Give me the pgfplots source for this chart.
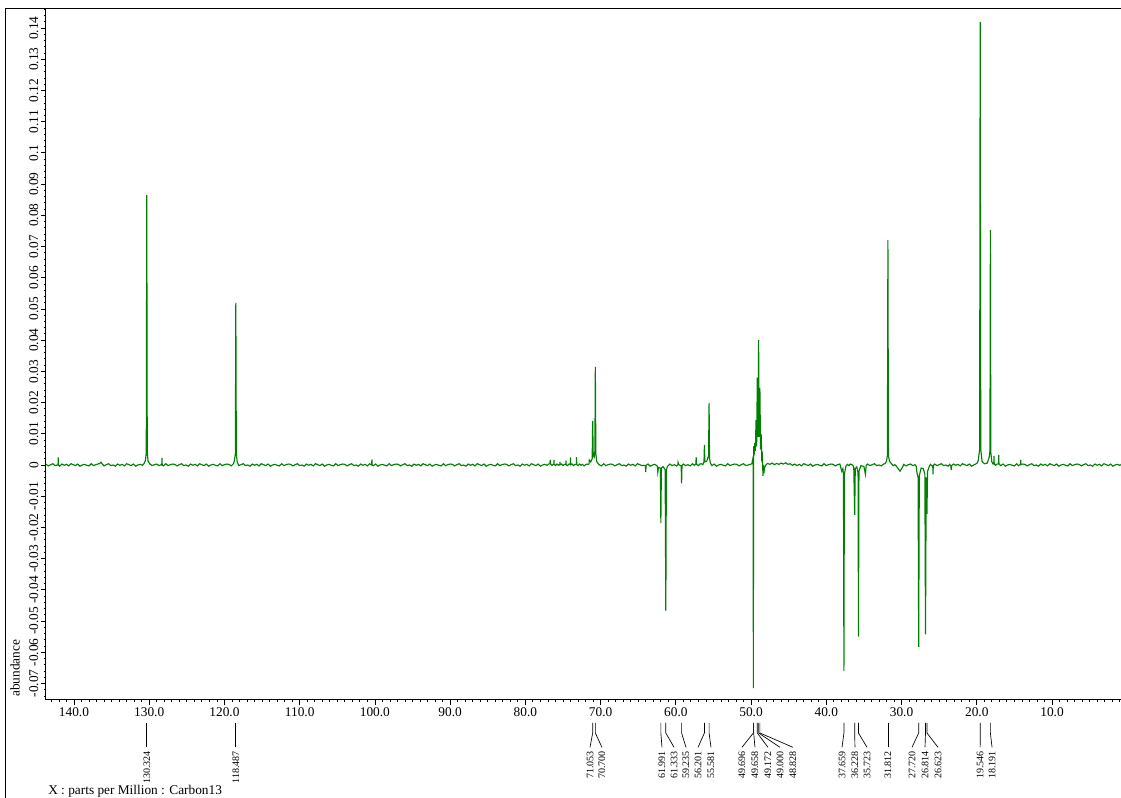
\documentclass[border=0pt]{standalone}
\usepackage{pgfplots}
\pgfplotsset{compat=1.18}
\usepackage{fontspec}
\setmainfont{Liberation Serif}
\definecolor{spec}{RGB}{0,128,0}
\newcommand{\pk}[3]{%
  \draw[line width=0.5pt] ([yshift=-17.25pt]axis cs:#1,-0.0753) -- ([yshift=-24.75pt]axis cs:#1,-0.0753) -- ([yshift=-35.5pt]axis cs:#2,-0.0753);
  \node[rotate=90,anchor=east,inner sep=0pt,font=\fontsize{7.5}{9}\selectfont] at ([yshift=-38.25pt]axis cs:#2,-0.0753) {#3};}
\begin{document}
\begin{tikzpicture}
\begin{axis}[
  name=ax,
  scale only axis, width=806.25pt, height=518.25pt,
  x dir=reverse,
  xmin=0.83, xmax=143.72, ymin=-0.0753, ymax=0.1461,
  axis x line*=bottom, axis y line*=left,
  axis line style={line width=0.75pt,-},
  xtick={10,20,...,140},
  minor xtick={1,2,...,143},
  ytick={-0.07,-0.06,-0.05,-0.04,-0.03,-0.02,-0.01,0,0.01,0.02,0.03,0.04,0.05,0.06,0.07,0.08,0.09,0.1,0.11,0.12,0.13,0.14},
  yticklabels={-0.07,-0.06,-0.05,-0.04,-0.03,-0.02,-0.01,0,0.01,0.02,0.03,0.04,0.05,0.06,0.07,0.08,0.09,0.1,0.11,0.12,0.13,0.14},
  minor ytick={-0.074,-0.072,...,0.146},
  tick align=outside,
  major tick length=3.5pt, minor tick length=1.75pt,
  every tick/.style={black, line width=0.6pt},
  /pgf/number format/assume math mode=true,
  x tick label style={font=\fontsize{10}{12}\selectfont, inner sep=2pt, /pgf/number format/.cd, fixed, fixed zerofill, precision=1, /tikz/.cd},
  y tick label style={font=\fontsize{10}{12}\selectfont, rotate=90, anchor=south, inner sep=2pt},
  clip=false,
]
\addplot[spec, line width=0.85pt] table {
143.7 0.0002
143.4 -0.0003
143.1 0.0001
142.8 0.0004
142.5 -0.0002
142.2 0.0000
142.12 0.0000
142.09 0.0024
142.06 0.0000
141.9 -0.0004
141.6 0.0003
141.3 -0.0001
141.0 0.0002
140.7 -0.0003
140.4 0.0004
140.1 0.0001
139.8 -0.0002
139.5 0.0003
139.2 -0.0004
138.9 0.0000
138.6 0.0002
138.3 -0.0001
138.0 -0.0003
137.7 0.0004
137.4 -0.0002
137.1 0.0001
136.8 0.0003
136.5 0.0006
136.4 0.0009
136.3 0.0005
136.0 -0.0003
135.7 0.0001
135.4 0.0004
135.1 -0.0002
134.8 0.0000
134.5 -0.0004
134.2 0.0003
133.9 -0.0001
133.6 0.0002
133.3 -0.0003
133.0 0.0004
132.7 0.0001
132.4 -0.0002
132.1 0.0003
131.8 -0.0004
131.5 0.0000
131.2 0.0002
130.9 -0.0001
130.7 0.0004
130.5 0.0015
130.39 0.0040
130.324 0.0865
130.26 0.0040
130.15 0.0012
129.9 0.0003
129.6 -0.0002
129.3 0.0001
129.0 0.0003
128.7 -0.0002
128.4 0.0001
128.33 0.0000
128.30 0.0023
128.27 0.0000
128.1 -0.0003
127.8 0.0004
127.5 -0.0002
127.2 0.0001
126.9 0.0003
126.6 0.0002
126.3 -0.0003
126.0 0.0001
125.7 0.0004
125.4 -0.0002
125.1 0.0000
124.8 -0.0004
124.5 0.0003
124.2 -0.0001
123.9 0.0002
123.6 -0.0003
123.3 0.0004
123.0 0.0001
122.7 -0.0002
122.4 0.0003
122.1 -0.0004
121.8 0.0000
121.5 0.0002
121.2 -0.0001
120.9 -0.0003
120.6 0.0004
120.3 -0.0002
120.0 0.0001
119.7 0.0003
119.4 0.0002
119.1 -0.0003
118.8 0.0004
118.7 0.0012
118.55 0.0035
118.487 0.0519
118.42 0.0035
118.3 0.0010
118.1 -0.0002
117.8 0.0001
117.5 0.0004
117.2 -0.0002
116.9 0.0000
116.6 -0.0004
116.3 0.0003
116.0 -0.0001
115.7 0.0002
115.4 -0.0003
115.1 0.0004
114.8 0.0001
114.5 -0.0002
114.2 0.0003
113.9 -0.0004
113.6 0.0000
113.3 0.0002
113.0 -0.0001
112.7 -0.0003
112.4 0.0004
112.1 -0.0002
111.8 0.0001
111.5 0.0003
111.2 0.0002
110.9 -0.0003
110.6 0.0001
110.3 0.0004
110.0 -0.0002
109.7 0.0000
109.4 -0.0004
109.1 0.0003
108.8 -0.0001
108.5 0.0002
108.2 -0.0003
107.9 0.0004
107.6 0.0001
107.3 -0.0002
107.0 0.0003
106.7 -0.0004
106.4 0.0000
106.1 0.0002
105.8 -0.0001
105.5 -0.0003
105.2 0.0004
104.9 -0.0002
104.6 0.0001
104.3 0.0003
104.0 0.0002
103.7 -0.0003
103.4 0.0001
103.1 0.0004
102.8 -0.0002
102.5 0.0000
102.2 -0.0004
101.9 0.0003
101.6 -0.0001
101.3 0.0002
101.0 -0.0003
100.7 0.0004
100.5 0.0001
100.43 0.0000
100.40 0.0018
100.37 0.0000
100.2 -0.0002
99.9 0.0003
99.6 -0.0004
99.3 0.0000
99.0 0.0002
98.7 -0.0001
98.4 -0.0003
98.1 0.0004
97.8 -0.0002
97.5 0.0001
97.2 0.0003
96.9 0.0002
96.6 -0.0003
96.3 0.0001
96.0 0.0004
95.7 -0.0002
95.4 0.0000
95.1 -0.0004
94.8 0.0003
94.5 -0.0001
94.2 0.0002
93.9 -0.0003
93.6 0.0004
93.3 0.0001
93.0 -0.0002
92.7 0.0003
92.4 -0.0004
92.1 0.0000
91.8 0.0002
91.5 -0.0001
91.2 -0.0003
90.9 0.0004
90.6 -0.0002
90.3 0.0001
90.0 0.0003
89.7 0.0002
89.4 -0.0003
89.1 0.0001
88.8 0.0004
88.5 -0.0002
88.2 0.0000
87.9 -0.0004
87.6 0.0003
87.3 -0.0001
87.0 0.0002
86.7 -0.0003
86.4 0.0004
86.1 0.0001
85.8 -0.0002
85.5 0.0003
85.2 -0.0004
84.9 0.0000
84.6 0.0002
84.3 -0.0001
84.0 -0.0003
83.7 0.0004
83.4 -0.0002
83.1 0.0001
82.8 0.0003
82.5 0.0002
82.2 -0.0003
81.9 0.0001
81.6 0.0004
81.3 -0.0002
81.0 0.0000
80.7 -0.0004
80.4 0.0003
80.1 -0.0001
79.8 0.0002
79.5 -0.0003
79.2 0.0004
78.9 0.0001
78.6 -0.0002
78.3 0.0003
78.0 -0.0004
77.7 0.0000
77.4 0.0002
77.1 -0.0001
76.9 0.0003
76.75 0.0004
76.70 0.0016
76.65 0.0003
76.45 -0.0001
76.22 0.0003
76.20 0.0016
76.17 0.0002
76.0 -0.0002
75.8 0.0003
75.6 -0.0001
75.42 0.0002
75.40 0.0010
75.37 0.0001
75.2 0.0003
75.0 -0.0002
74.8 0.0002
74.63 0.0002
74.60 0.0014
74.57 0.0001
74.4 -0.0002
74.2 0.0003
74.03 0.0002
74.00 0.0024
73.97 0.0001
73.8 0.0003
73.6 -0.0002
73.4 0.0002
73.23 0.0002
73.20 0.0025
73.17 0.0001
73.0 -0.0002
72.8 0.0003
72.6 -0.0001
72.4 0.0002
72.2 -0.0003
72.0 0.0001
71.8 0.0003
71.6 0.0002
71.53 0.0004
71.50 0.0016
71.30 0.0010
71.12 0.0020
71.053 0.0141
70.98 0.0030
70.85 0.0025
70.76 0.0045
70.700 0.0314
70.63 0.0035
70.5 0.0010
70.2 0.0001
69.9 -0.0003
69.6 0.0004
69.3 -0.0002
69.0 0.0001
68.7 0.0003
68.4 0.0002
68.1 -0.0003
67.8 0.0001
67.5 0.0004
67.2 -0.0002
66.9 0.0000
66.6 -0.0004
66.3 0.0003
66.0 -0.0001
65.7 0.0002
65.4 -0.0003
65.1 0.0004
64.8 0.0001
64.5 -0.0002
64.3 -0.0001
64.05 -0.0002
64.00 -0.0023
63.95 -0.0001
63.7 0.0003
63.4 -0.0004
63.1 0.0000
62.8 0.0002
62.6 -0.0001
62.45 -0.0004
62.40 -0.0023
62.30 -0.0008
62.06 -0.0010
61.991 -0.0186
61.92 -0.0010
61.70 -0.0005
61.42 -0.0015
61.333 -0.0467
61.26 -0.0015
61.1 -0.0004
60.8 0.0003
60.5 -0.0002
60.2 0.0001
59.9 -0.0003
59.72 0.0001
59.70 0.0008
59.6 0.0001
59.4 -0.0002
59.29 -0.0002
59.235 -0.0059
59.18 -0.0002
59.0 0.0003
58.7 -0.0002
58.4 0.0001
58.1 -0.0003
57.8 0.0004
57.55 -0.0001
57.33 0.0003
57.30 0.0025
57.27 0.0002
57.0 -0.0002
56.8 0.0003
56.6 0.0004
56.4 0.0001
56.26 0.0010
56.201 0.0064
56.14 0.0010
55.9 0.0012
55.65 0.0030
55.581 0.0199
55.52 0.0020
55.4 0.0006
55.2 -0.0002
54.9 0.0003
54.6 -0.0004
54.3 0.0000
54.0 0.0002
53.7 -0.0001
53.4 -0.0003
53.1 0.0004
52.8 -0.0002
52.5 0.0001
52.2 0.0003
51.9 0.0002
51.6 -0.0003
51.3 0.0001
51.0 0.0004
50.7 -0.0002
50.4 0.0000
50.1 0.0002
49.90 0.0004
49.78 0.0018
49.72 0.0005
49.696 -0.0715
49.675 -0.0010
49.658 0.0060
49.60 0.0030
49.51 0.0070
49.43 0.0045
49.34 0.0144
49.26 0.0060
49.172 0.0280
49.09 0.0090
49.000 0.0400
48.91 0.0090
48.828 0.0247
48.74 0.0050
48.66 0.0100
48.58 0.0020
48.49 0.0030
48.42 -0.0035
48.36 0.0000
48.30 -0.0027
48.2 -0.0008
48.0 0.0001
47.8 0.0005
47.5 0.0002
47.2 0.0006
46.9 0.0001
46.6 0.0005
46.3 0.0002
46.0 0.0006
45.7 0.0003
45.4 0.0007
45.1 0.0002
44.8 0.0004
44.5 -0.0001
44.2 0.0003
43.9 -0.0002
43.6 0.0002
43.3 -0.0003
43.0 0.0004
42.7 0.0001
42.4 -0.0002
42.1 0.0003
41.8 -0.0004
41.5 0.0000
41.2 0.0002
40.9 -0.0001
40.6 -0.0003
40.3 0.0004
40.0 -0.0002
39.7 0.0001
39.4 0.0003
39.1 0.0002
38.8 -0.0003
38.5 0.0001
38.2 0.0003
37.95 -0.0020
37.8 -0.0012
37.72 -0.0030
37.659 -0.0660
37.60 -0.0030
37.4 -0.0004
37.2 0.0002
37.0 -0.0002
36.8 0.0003
36.6 0.0001
36.45 -0.0002
36.35 -0.0008
36.228 -0.0160
36.15 -0.0012
35.95 -0.0006
35.78 -0.0025
35.723 -0.0550
35.66 -0.0020
35.4 -0.0002
35.0 -0.0005
34.8 -0.0030
34.7 -0.0002
34.5 0.0003
34.2 -0.0002
33.9 0.0001
33.6 0.0004
33.3 -0.0002
33.0 0.0000
32.7 -0.0003
32.4 0.0003
32.2 0.0004
32.0 0.0012
31.88 0.0030
31.812 0.0721
31.74 0.0030
31.6 0.0012
31.3 0.0003
31.1 -0.0002
30.9 0.0001
30.7 -0.0003
30.5 -0.0010
30.2 -0.0020
29.9 -0.0008
29.7 0.0002
29.4 -0.0003
29.1 0.0001
28.8 0.0003
28.5 -0.0002
28.2 0.0001
28.05 -0.0004
27.95 -0.0025
27.80 -0.0040
27.720 -0.0583
27.64 -0.0035
27.4 -0.0010
27.1 -0.0012
26.90 -0.0030
26.814 -0.0543
26.72 -0.0040
26.623 -0.0157
26.54 -0.0020
26.3 -0.0004
26.15 0.0002
26.0 -0.0002
25.85 -0.0003
25.82 -0.0030
25.78 -0.0002
25.6 0.0003
25.3 -0.0002
25.0 0.0001
24.7 0.0004
24.4 -0.0002
24.1 0.0000
23.8 -0.0004
23.6 0.0002
23.45 -0.0003
23.40 -0.0016
23.35 -0.0002
23.1 0.0003
22.8 -0.0001
22.5 0.0002
22.2 -0.0003
21.9 0.0004
21.6 0.0001
21.3 -0.0002
21.0 0.0003
20.7 -0.0004
20.4 0.0000
20.15 0.0003
19.95 0.0006
19.8 0.0015
19.62 0.0050
19.546 0.1419
19.47 0.0050
19.3 0.0012
19.0 0.0004
18.6 0.0006
18.35 0.0025
18.25 0.0045
18.191 0.0753
18.13 0.0040
18.0 0.0010
17.85 0.0003
17.74 0.0004
17.71 0.0029
17.68 0.0003
17.5 -0.0001
17.3 0.0003
17.11 0.0004
17.08 0.0032
17.05 0.0003
16.8 -0.0002
16.5 0.0003
16.2 -0.0004
15.9 0.0000
15.6 0.0002
15.3 -0.0001
15.0 -0.0003
14.7 0.0004
14.45 -0.0002
14.19 0.0002
14.16 0.0016
14.13 0.0001
13.9 0.0003
13.6 0.0002
13.3 -0.0003
13.0 0.0001
12.7 0.0004
12.4 -0.0002
12.1 0.0000
11.8 -0.0004
11.5 0.0003
11.2 -0.0001
10.9 0.0002
10.6 -0.0003
10.3 0.0004
10.0 0.0001
9.7 -0.0002
9.4 0.0003
9.1 -0.0004
8.8 0.0000
8.5 0.0002
8.2 -0.0001
7.9 -0.0003
7.6 0.0004
7.3 -0.0002
7.0 0.0001
6.7 0.0003
6.4 0.0002
6.1 -0.0003
5.8 0.0001
5.5 0.0004
5.2 -0.0002
4.9 0.0000
4.6 -0.0004
4.3 0.0003
4.0 -0.0001
3.7 0.0002
3.4 -0.0003
3.1 0.0004
2.8 0.0001
2.5 -0.0002
2.2 0.0003
1.9 -0.0004
1.6 0.0000
1.3 0.0002
1.0 -0.0001
0.85 0.0001
};
\pk{130.324}{130.324}{130.324}
\pk{118.487}{118.487}{118.487}
\pk{71.053}{71.41}{71.053}
\pk{70.700}{69.82}{70.700}
\pk{61.991}{61.84}{61.991}
\pk{61.333}{60.24}{61.333}
\pk{59.235}{58.65}{59.235}
\pk{56.201}{57.05}{56.201}
\pk{55.581}{55.33}{55.581}
\pk{49.696}{51.21}{49.696}
\pk{49.658}{49.48}{49.658}
\pk{49.172}{47.75}{49.172}
\pk{49.000}{46.15}{49.000}
\pk{48.828}{44.43}{48.828}
\pk{37.659}{37.91}{37.659}
\pk{36.228}{36.19}{36.228}
\pk{35.723}{34.59}{35.723}
\pk{31.812}{31.812}{31.812}
\pk{27.720}{28.61}{27.720}
\pk{26.814}{26.88}{26.814}
\pk{26.623}{25.15}{26.623}
\pk{19.546}{19.55}{19.546}
\pk{18.191}{17.97}{18.191}
\end{axis}
\draw[line width=0.75pt] ([xshift=-30pt,yshift=-80pt]ax.south west) -- ([xshift=-30pt]ax.north west) -- ([xshift=20pt]ax.north east);
\node[rotate=90,anchor=west,inner sep=0pt,font=\fontsize{10}{12}\selectfont] at ([xshift=-23.25pt,yshift=2.25pt]ax.south west) {abundance};
\node[anchor=base west,inner sep=0pt,font=\fontsize{10}{12}\selectfont] at ([xshift=1.5pt,yshift=-71.25pt]ax.south west) {X : parts per Million : Carbon13};
\pgfresetboundingbox
\path[use as bounding box] ([xshift=-34.5pt,yshift=-73.5pt]ax.south west) rectangle ([yshift=6.75pt]ax.north east);
\end{tikzpicture}
\end{document}
